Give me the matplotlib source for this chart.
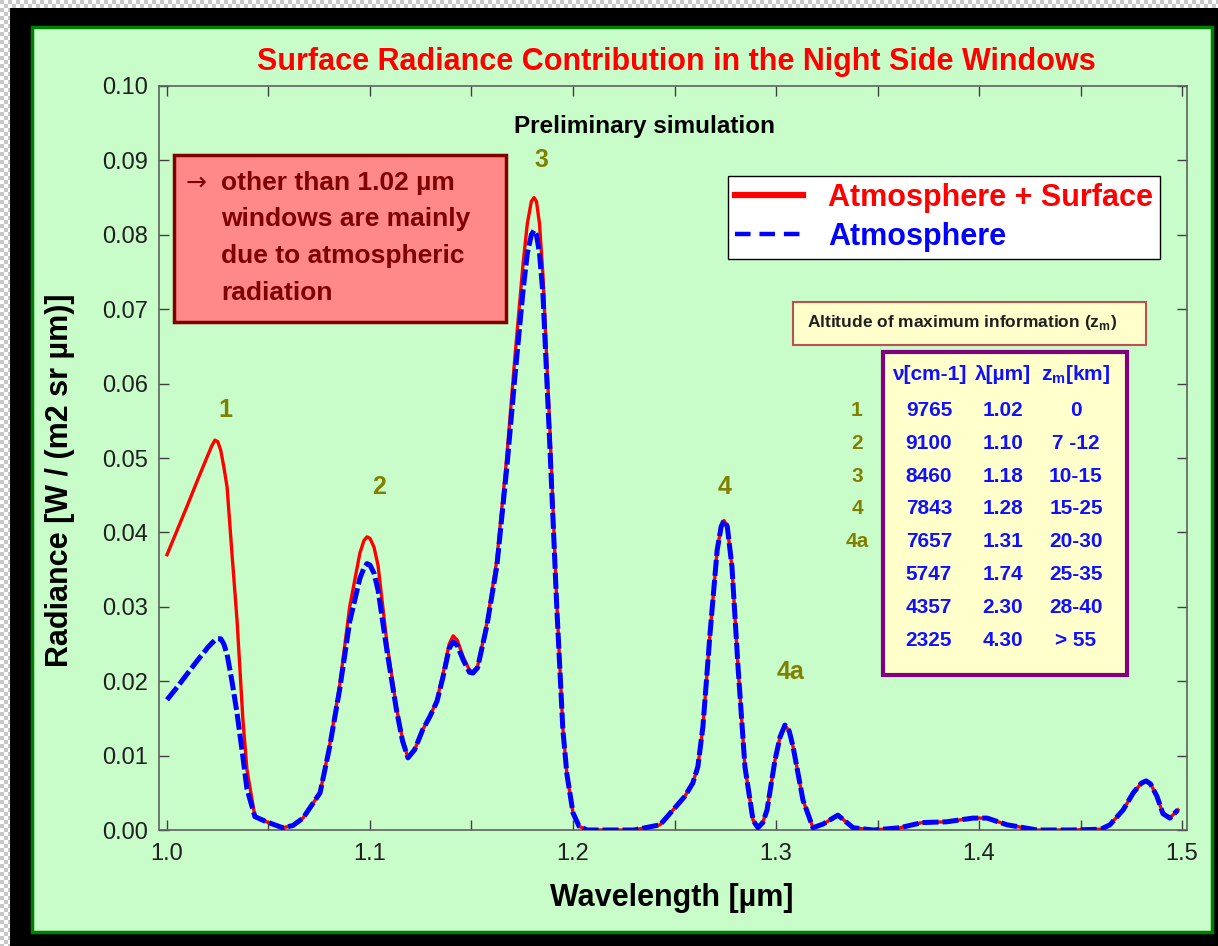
import numpy as np
import matplotlib
matplotlib.use("Agg")
import matplotlib.pyplot as plt
from matplotlib.lines import Line2D
from matplotlib.patches import Rectangle

plt.rcParams["font.family"] = ["Liberation Sans", "DejaVu Sans"]

# spectra
wavelength = [
    1.000, 1.005, 1.010, 1.015, 1.020, 1.022, 1.0236, 1.025, 1.0265, 1.028,
    1.0296, 1.032, 1.0345, 1.0374, 1.0394, 1.0433, 1.049, 1.057, 1.062, 1.067,
    1.0754, 1.080, 1.085, 1.090, 1.095, 1.097, 1.0985, 1.100, 1.102, 1.104,
    1.1084, 1.113, 1.116, 1.1187, 1.122, 1.126, 1.1296, 1.133, 1.136, 1.139,
    1.141, 1.143, 1.146, 1.149, 1.1507, 1.153, 1.1576, 1.1625, 1.1675, 1.1714,
    1.1754, 1.1775, 1.1795, 1.1808, 1.182, 1.1835, 1.1852, 1.1887, 1.192, 1.195,
    1.197, 1.200, 1.203, 1.207, 1.220, 1.230, 1.2429, 1.2493, 1.255, 1.259,
    1.2615, 1.264, 1.2675, 1.271, 1.273, 1.2744, 1.276, 1.2783, 1.2813, 1.2847,
    1.2887, 1.2911, 1.2935, 1.2956, 1.2995, 1.302, 1.3044, 1.3065, 1.3084, 1.3133,
    1.3182, 1.3232, 1.3305, 1.338, 1.348, 1.361, 1.372, 1.384, 1.397, 1.404,
    1.4138, 1.4286, 1.445, 1.460, 1.4645, 1.471, 1.476, 1.480, 1.4823, 1.4845,
    1.4877, 1.4906, 1.494, 1.498,
]
atm_surface = [
    0.0370, 0.0403, 0.0436, 0.0470, 0.0503, 0.0516, 0.0524, 0.0522, 0.0510, 0.0488,
    0.0461, 0.0372, 0.0282, 0.0148, 0.0081, 0.0018, 0.0011, 0.0003, 0.0006, 0.0016,
    0.0050, 0.0112, 0.0193, 0.0300, 0.0372, 0.0389, 0.0394, 0.0392, 0.0380, 0.0355,
    0.0250, 0.0165, 0.0122, 0.0097, 0.0108, 0.0135, 0.0153, 0.0175, 0.0210, 0.0250,
    0.0261, 0.0255, 0.0232, 0.0215, 0.0213, 0.0220, 0.0278, 0.0363, 0.0505, 0.0636,
    0.0761, 0.0815, 0.0845, 0.0850, 0.0845, 0.0815, 0.0745, 0.0533, 0.0306, 0.0137,
    0.0075, 0.0023, 0.0005, 0.0000, 0.0000, 0.0000, 0.0007, 0.0027, 0.0045, 0.0063,
    0.0085, 0.0139, 0.0264, 0.0376, 0.0408, 0.0416, 0.0408, 0.0354, 0.0219, 0.0085,
    0.0013, 0.0003, 0.0010, 0.0027, 0.0094, 0.0125, 0.0141, 0.0133, 0.0112, 0.0040,
    0.0003, 0.0008, 0.0020, 0.0003, 0.0000, 0.0003, 0.0010, 0.0011, 0.0016, 0.0016,
    0.0007, 0.0000, 0.0000, 0.0001, 0.0007, 0.0027, 0.0050, 0.0063, 0.0066, 0.0062,
    0.0045, 0.0022, 0.0016, 0.0027,
]
atmosphere = [
    0.0175, 0.0192, 0.0210, 0.0228, 0.0245, 0.0251, 0.0255, 0.0257, 0.0257, 0.0250,
    0.0236, 0.0200, 0.0157, 0.0098, 0.0055, 0.0018, 0.0011, 0.0003, 0.0006, 0.0016,
    0.0050, 0.0110, 0.0188, 0.0280, 0.0338, 0.0352, 0.0358, 0.0356, 0.0345, 0.0322,
    0.0240, 0.0162, 0.0120, 0.0097, 0.0108, 0.0135, 0.0153, 0.0173, 0.0206, 0.0244,
    0.0253, 0.0248, 0.0228, 0.0212, 0.0211, 0.0218, 0.0275, 0.0355, 0.0490, 0.0610,
    0.0725, 0.0775, 0.0800, 0.0806, 0.0800, 0.0775, 0.0720, 0.0510, 0.0300, 0.0135,
    0.0075, 0.0023, 0.0005, 0.0000, 0.0000, 0.0000, 0.0007, 0.0027, 0.0045, 0.0063,
    0.0085, 0.0139, 0.0264, 0.0376, 0.0408, 0.0416, 0.0408, 0.0354, 0.0219, 0.0085,
    0.0013, 0.0003, 0.0010, 0.0027, 0.0094, 0.0125, 0.0141, 0.0133, 0.0112, 0.0040,
    0.0003, 0.0008, 0.0020, 0.0003, 0.0000, 0.0003, 0.0010, 0.0011, 0.0016, 0.0016,
    0.0007, 0.0000, 0.0000, 0.0001, 0.0007, 0.0027, 0.0050, 0.0063, 0.0066, 0.0062,
    0.0045, 0.0022, 0.0016, 0.0027,
]

peak_labels = ["1", "2", "3", "4", "4a"]
peak_label_x = [1.0286, 1.1044, 1.1842, 1.2749, 1.3069]
peak_label_y = [0.0565, 0.0461, 0.0901, 0.0461, 0.0212]

table_header = ["\u03bd[cm-1]", "\u03bb[\u00b5m]", "z$_\\mathregular{m}$[km]"]
table_window = ["1", "2", "3", "4", "4a", "", "", ""]
table_nu = ["9765", "9100", "8460", "7843", "7657", "5747", "4357", "2325"]
table_lambda = ["1.02", "1.10", "1.18", "1.28", "1.31", "1.74", "2.30", "4.30"]
table_zm = ["0", "7 -12", "10-15", "15-25", "20-30", "25-35", "28-40", "> 55"]

W, H = 1218, 946
GREEN = "#C8FCC8"
OLIVE = "#808000"


def fx(px):
    return px / W


def fy(py):
    return 1.0 - py / H


fig = plt.figure(figsize=(W / 100, H / 100), dpi=100)

# transparent-canvas checker on the left/top strip, then the black frame
checker = (np.indices((H // 4 + 1, W // 4 + 1)).sum(axis=0) % 2)
checker = np.kron(checker, np.ones((4, 4)))[:H, :W]
checker = 0.78 + 0.22 * checker
fig.figimage(checker, xo=0, yo=0, cmap="gray", vmin=0, vmax=1, origin="upper",
             zorder=-3)
fig.add_artist(Rectangle((fx(10), 0), 1 - fx(10), fy(8), transform=fig.transFigure,
                         facecolor="black", edgecolor="none", zorder=-2))
fig.add_artist(Rectangle((fx(32), fy(932)), fx(1212) - fx(32), fy(27) - fy(932),
                         transform=fig.transFigure, facecolor=GREEN,
                         edgecolor="#008000", linewidth=2.5, zorder=-1))

ax = fig.add_axes([fx(159), fy(830), fx(1187) - fx(159), fy(86) - fy(830)])
ax.set_facecolor(GREEN)
ax.set_xlim(1.0 - 8 / 2030, 1.5 + 5 / 2030)
ax.set_ylim(0.0, 0.1)

ax.plot(wavelength, atm_surface, color="#FF0000", linewidth=2.4,
        solid_joinstyle="round", zorder=3)
ax.plot(wavelength, atmosphere, color="#0000FF", linewidth=3.6,
        dashes=(3.2, 0.8), dash_joinstyle="round", zorder=4)

ax.set_xticks(np.arange(1.0, 1.51, 0.1))
ax.set_xticks(np.arange(1.05, 1.5, 0.1), minor=True)
ax.set_yticks(np.arange(0.0, 0.101, 0.01))
ax.xaxis.set_major_formatter(plt.FormatStrFormatter("%.1f"))
ax.yaxis.set_major_formatter(plt.FormatStrFormatter("%.2f"))
ax.tick_params(which="both", direction="in", top=True, right=True,
               length=7, width=1, color="#404040")
ax.tick_params(axis="x", labelsize=17, pad=9, labelcolor="#202020")
ax.tick_params(axis="y", labelsize=17, pad=8, labelcolor="#202020")
for spine in ax.spines.values():
    spine.set_color("#606060")
    spine.set_linewidth(1.2)

ax.set_xlabel("Wavelength [\u00b5m]", fontsize=22, fontweight="bold")
ax.set_ylabel("Radiance [W / (m2 sr \u00b5m)]", fontsize=22, fontweight="bold")
ax.xaxis.set_label_coords((672 - 159) / 1028, (830 - 898) / 744)
ax.yaxis.set_label_coords((60 - 159) / 1028, (830 - 480) / 744)
ax.xaxis.label.set_verticalalignment("center")
ax.yaxis.label.set_verticalalignment("center")

for label, x, y in zip(peak_labels, peak_label_x, peak_label_y):
    ax.text(x, y, label, color=OLIVE, fontsize=18, fontweight="bold",
            ha="center", va="center", zorder=5)

fig.text(fx(676), fy(62), "Surface Radiance Contribution in the Night Side Windows",
         color="#FF0000", fontsize=22, fontweight="bold", ha="center", va="center")
fig.text(fx(645), fy(127), "Preliminary simulation", fontsize=17.5,
         fontweight="bold", ha="center", va="center")

# note box
fig.add_artist(Rectangle((fx(174), fy(322)), fx(506) - fx(174), fy(155) - fy(322),
                         transform=fig.transFigure, facecolor="#FF8888",
                         edgecolor="#800000", linewidth=2.5, zorder=5))
fig.text(fx(186), fy(183), "\u2192", color="#800000", fontsize=18,
         family=["DejaVu Sans"], ha="left", va="center", zorder=6)
note_lines = ["other than 1.02 \u00b5m", "windows are mainly",
              "due to atmospheric", "radiation"]
for line, py in zip(note_lines, [183, 219, 256, 293]):
    fig.text(fx(221), fy(py), line, color="#800000", fontsize=19,
             fontweight="bold", ha="left", va="center", zorder=6)

# legend
handles = [Line2D([], [], color="#FF0000", linewidth=4.5),
           Line2D([], [], color="#0000FF", linewidth=3.2, dashes=(3.5, 2.0))]
legend = ax.legend(handles, ["Atmosphere + Surface", "Atmosphere"],
                   loc="upper left", bbox_to_anchor=(fx(728), fy(176)),
                   bbox_transform=fig.transFigure, borderaxespad=0,
                   prop={"size": 22, "weight": "bold"}, labelcolor="linecolor",
                   handlelength=2.25, handletextpad=0.8, borderpad=0.22,
                   labelspacing=0.3, fancybox=False, framealpha=1,
                   facecolor="white", edgecolor="black")
legend.get_frame().set_linewidth(1.0)
legend.set_zorder(6)

# altitude table
fig.add_artist(Rectangle((fx(793), fy(345)), fx(1146) - fx(793), fy(302) - fy(345),
                         transform=fig.transFigure, facecolor="#FFFFCC",
                         edgecolor="#C05050", linewidth=1.5, zorder=5))
fig.text(fx(962), fy(323), "Altitude of maximum information (z$_\\mathregular{m}$)",
         fontsize=12.5, fontweight="bold", color="#202020",
         ha="center", va="center", zorder=6)
fig.add_artist(Rectangle((fx(883), fy(675)), fx(1127) - fx(883), fy(352) - fy(675),
                         transform=fig.transFigure, facecolor="#FFFFCC",
                         edgecolor="#800080", linewidth=3, zorder=5))
col_x = [929, 1003, 1076]
for text, px in zip(table_header, col_x):
    fig.text(fx(px), fy(374), text, color="#1010FF", fontsize=15,
             fontweight="bold", ha="center", va="center", zorder=6)
row_y = [410, 443, 476, 509, 541, 574, 607, 640]
for i, py in enumerate(row_y):
    for text, px in zip((table_nu[i], table_lambda[i], table_zm[i]), col_x):
        fig.text(fx(px), fy(py), text, color="#1010FF", fontsize=15,
                 fontweight="bold", ha="center", va="center", zorder=6)
    fig.text(fx(857), fy(py), table_window[i], color=OLIVE, fontsize=15,
             fontweight="bold", ha="center", va="center", zorder=6)

fig.savefig("out.png", dpi=100)
